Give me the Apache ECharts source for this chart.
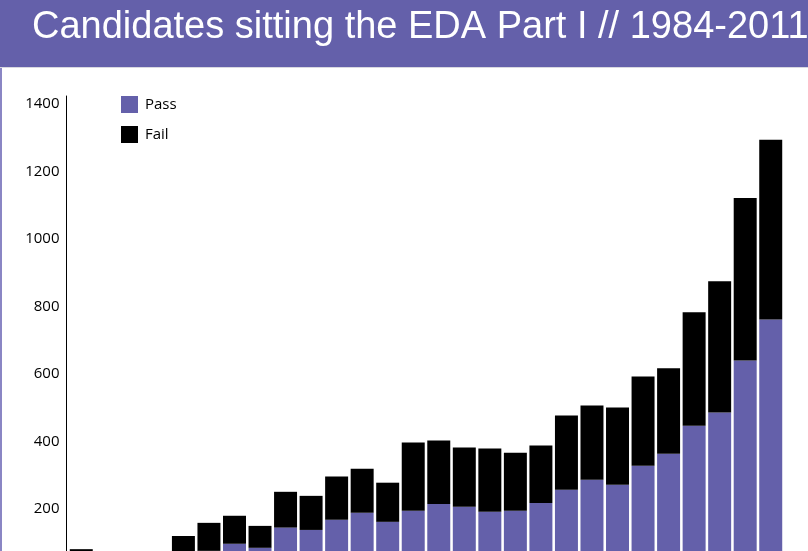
<!DOCTYPE html>
<html>
<head>
<meta charset="utf-8">
<script src="https://cdn.jsdelivr.net/npm/echarts@6/dist/echarts.min.js"></script>
<style>
html,body{margin:0;padding:0;background:#fff;overflow:hidden;height:551px;}
#chart{width:808px;height:577px;}
</style>
</head>
<body>
<div id="chart"></div>
<script>
const titleText = 'Candidates sitting the EDA Part I // 1984-2011';
const years = ['1984','1985','1986','1987','1988','1989','1990','1991','1992','1993','1994','1995','1996','1997','1998','1999','2000','2001','2002','2003','2004','2005','2006','2007','2008','2009','2010','2011'];
const passValues = [40, null, null, null, 55, 76, 97, 85, 145, 138, 168, 189, 162, 195, 215, 207, 192, 195, 218, 257, 287, 272, 328, 364, 447, 486, 640, 762];
const failValues = [41, null, null, null, 65, 83, 83, 65, 106, 101, 128, 130, 116, 202, 188, 175, 187, 172, 170, 220, 220, 229, 265, 253, 336, 389, 482, 532];
const yTicks = [200, 400, 600, 800, 1000, 1200, 1400];

const purple = '#6460AA';
const chart = echarts.init(document.getElementById('chart'), null, {renderer: 'canvas', width: 808, height: 577});
chart.setOption({
  animation: false,
  backgroundColor: '#fff',
  graphic: [
    {type: 'rect', left: 0, top: 0, shape: {width: 808, height: 67}, style: {fill: purple}, z: 0},
    {type: 'rect', left: 0, top: 67, shape: {width: 808, height: 1}, style: {fill: '#d8d8e0'}, z: 0},
    {type: 'rect', left: 0, top: 68, shape: {width: 2, height: 509}, style: {fill: '#8a86c4'}, z: 0},
    {type: 'text', left: 32, top: 9, style: {text: titleText, fill: '#fff', font: '300 38px "Liberation Sans Narrow", "Liberation Sans", sans-serif'}, z: 10}
  ],
  legend: {
    orient: 'vertical', left: 121, top: 96, padding: 0, itemWidth: 17, itemHeight: 17, itemGap: 13,
    icon: 'rect',
    textStyle: {fontFamily: 'Open Sans', fontSize: 15, color: '#000', padding: [0, 0, 0, 2]},
    data: ['Pass', 'Fail']
  },
  grid: {left: 68.5, right: 24.5, top: 96, bottom: 0.5, containLabel: false},
  xAxis: {
    type: 'category', data: years,
    axisLine: {show: false}, axisTick: {show: false}, axisLabel: {show: false}
  },
  yAxis: {
    type: 'value', min: 0, max: 1424, interval: 200, offset: 2,
    axisLine: {show: true, lineStyle: {color: '#000', width: 1}},
    axisTick: {show: false},
    splitLine: {show: false},
    axisLabel: {
      margin: 7, fontFamily: 'Open Sans', fontSize: 15, color: '#000',
      formatter: v => yTicks.includes(v) ? String(v) : ''
    }
  },
  series: [
    {name: 'Pass', type: 'bar', stack: 'total', data: passValues, barCategoryGap: '10%', itemStyle: {color: purple}},
    {name: 'Fail', type: 'bar', stack: 'total', data: failValues, barCategoryGap: '10%', itemStyle: {color: '#000'}}
  ]
});
</script>
</body>
</html>
